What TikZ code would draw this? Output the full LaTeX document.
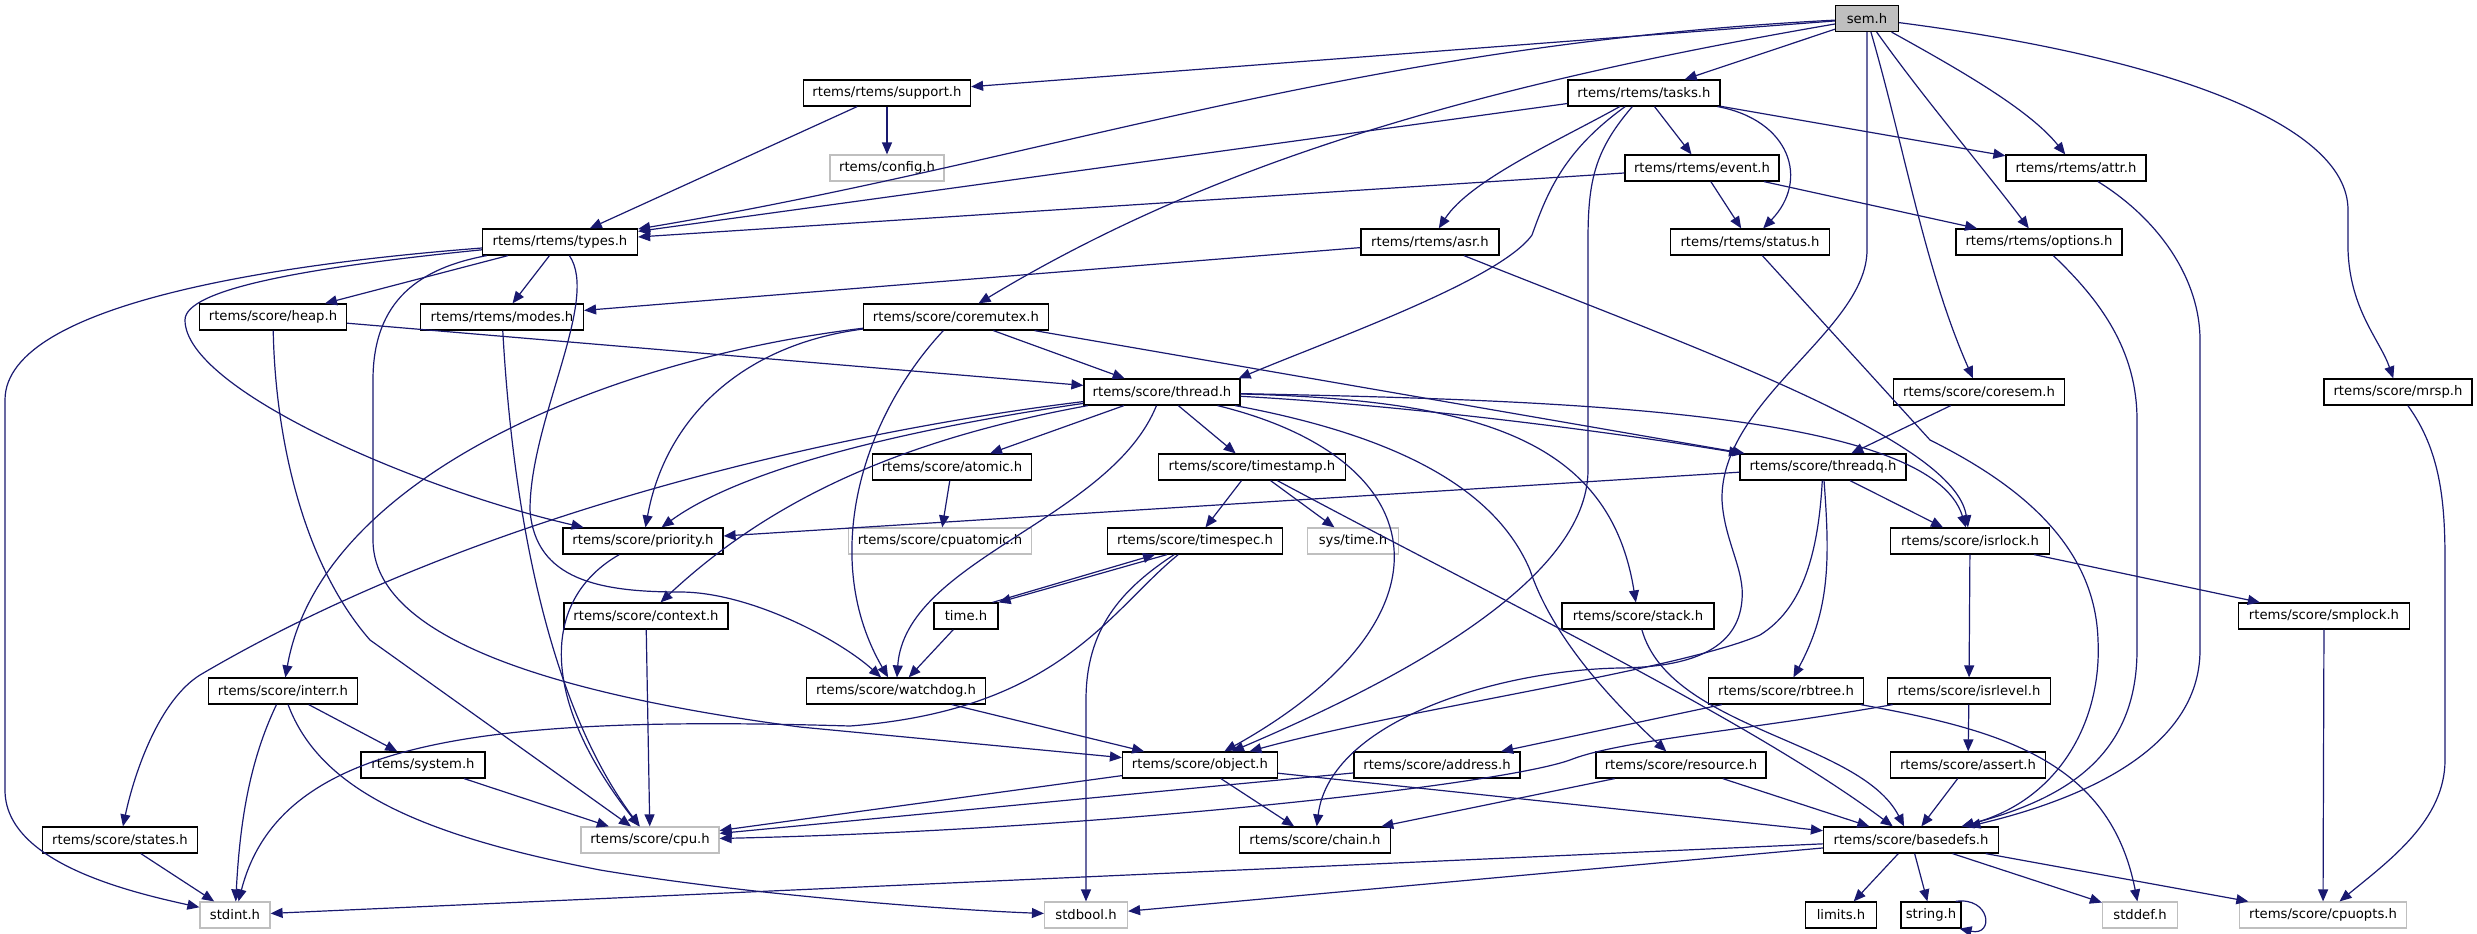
\documentclass[tikz,border=0pt]{standalone}
\usepackage{fontspec}
\setmainfont{DejaVu Sans}
\usetikzlibrary{arrows.meta}
\definecolor{dxblue}{RGB}{25,25,112}
\definecolor{dxgrey}{RGB}{191,191,191}

\begin{document}
\begin{tikzpicture}[x=1pt, y=-1pt,
  hdr/.style={draw=black, fill=dxgrey, line width=1.2pt, minimum height=26pt, inner sep=0pt, font=\fontsize{13.2}{15}\selectfont},
  inc/.style={hdr, fill=white},
  sys/.style={inc, draw=dxgrey},
  dep/.style={draw=dxblue, line width=1.2pt, -{Triangle[length=12pt,width=10pt]}}]
\useasboundingbox (0,0) rectangle (2477,934);

% files
\node[hdr, minimum width=63pt] (sem) at (1867,18.5) {sem.h};
\node[inc, minimum width=167pt] (support) at (887,93) {rtems/rtems/support.h};
\node[inc, minimum width=152pt] (tasks) at (1644,93) {rtems/rtems/tasks.h};
\node[sys, minimum width=114pt] (config) at (887,168) {rtems/config.h};
\node[inc, minimum width=154pt] (event) at (1702,168) {rtems/rtems/event.h};
\node[inc, minimum width=140pt] (attr) at (2076,168) {rtems/rtems/attr.h};
\node[inc, minimum width=155pt] (types) at (560,242) {rtems/rtems/types.h};
\node[inc, minimum width=138pt] (asr) at (1430,242) {rtems/rtems/asr.h};
\node[inc, minimum width=159pt] (status) at (1750,242) {rtems/rtems/status.h};
\node[inc, minimum width=166pt] (options) at (2039,242) {rtems/rtems/options.h};
\node[inc, minimum width=147pt] (heap) at (273,317) {rtems/score/heap.h};
\node[inc, minimum width=163pt] (modes) at (502,317) {rtems/rtems/modes.h};
\node[inc, minimum width=185pt] (coremutex) at (956,317) {rtems/score/coremutex.h};
\node[inc, minimum width=156pt] (thread) at (1162,392) {rtems/score/thread.h};
\node[inc, minimum width=171pt] (coresem) at (1979,392) {rtems/score/coresem.h};
\node[inc, minimum width=148pt] (mrsp) at (2398,392) {rtems/score/mrsp.h};
\node[inc, minimum width=159pt] (atomic) at (952,467) {rtems/score/atomic.h};
\node[inc, minimum width=187pt] (timestamp) at (1252,467) {rtems/score/timestamp.h};
\node[inc, minimum width=166pt] (threadq) at (1823,467) {rtems/score/threadq.h};
\node[inc, minimum width=160pt] (priority) at (643,541) {rtems/score/priority.h};
\node[sys, minimum width=183pt] (cpuatomic) at (940,541) {rtems/score/cpuatomic.h};
\node[inc, minimum width=175pt] (timespec) at (1195,541) {rtems/score/timespec.h};
\node[sys, minimum width=91pt] (systime) at (1353,541) {sys/time.h};
\node[inc, minimum width=159pt] (isrlock) at (1970,541) {rtems/score/isrlock.h};
\node[inc, minimum width=164pt] (context) at (646,616) {rtems/score/context.h};
\node[inc, minimum width=64pt] (time) at (966,616) {time.h};
\node[inc, minimum width=152pt] (stack) at (1638,616) {rtems/score/stack.h};
\node[inc, minimum width=171pt] (smplock) at (2324,616) {rtems/score/smplock.h};
\node[inc, minimum width=149pt] (interr) at (283,691) {rtems/score/interr.h};
\node[inc, minimum width=179pt] (watchdog) at (896,691) {rtems/score/watchdog.h};
\node[inc, minimum width=155pt] (rbtree) at (1786,691) {rtems/score/rbtree.h};
\node[inc, minimum width=163pt] (isrlevel) at (1969,691) {rtems/score/isrlevel.h};
\node[inc, minimum width=124pt] (system) at (423,765) {rtems/system.h};
\node[inc, minimum width=155pt] (object) at (1200,765) {rtems/score/object.h};
\node[inc, minimum width=166pt] (address) at (1437,765) {rtems/score/address.h};
\node[inc, minimum width=170pt] (resource) at (1681,765) {rtems/score/resource.h};
\node[inc, minimum width=155pt] (assert) at (1968,765) {rtems/score/assert.h};
\node[inc, minimum width=155pt] (states) at (120,840) {rtems/score/states.h};
\node[sys, minimum width=138pt] (cpu) at (650,840) {rtems/score/cpu.h};
\node[inc, minimum width=151pt] (chain) at (1315,840) {rtems/score/chain.h};
\node[inc, minimum width=175pt] (basedefs) at (1911,840) {rtems/score/basedefs.h};
\node[sys, minimum width=70pt] (stdint) at (235,915) {stdint.h};
\node[sys, minimum width=83pt] (stdbool) at (1086,915) {stdbool.h};
\node[inc, minimum width=71pt] (limits) at (1841,915) {limits.h};
\node[inc, minimum width=60pt] (string) at (1931,915) {string.h};
\node[sys, minimum width=75pt] (stddef) at (2140,915) {stddef.h};
\node[sys, minimum width=167pt] (cpuopts) at (2323,915) {rtems/score/cpuopts.h};

% sem.h
\draw[dep] (sem) -- (support);
\draw[dep] (sem) .. controls (1350,45) and (1050,160) .. (types);
\draw[dep] (sem) -- (tasks);
\draw[dep] (sem) .. controls (1450,90) and (1200,170) .. (coremutex);
\draw[dep] (sem.south) -- (1867,250) .. controls (1867,330) and (1720,400) .. (1722,500) .. controls (1724,540) and (1745,570) .. (1742,600) .. controls (1738,650) and (1690,667) .. (1620,668) .. controls (1500,670) and (1330,720) .. (chain);
\draw[dep] (sem) .. controls (1905,150) and (1925,270) .. (coresem);
\draw[dep] (sem) .. controls (1925,100) and (1985,170) .. (options);
\draw[dep] (sem) .. controls (1960,70) and (2030,110) .. (attr);
\draw[dep] (sem) .. controls (2150,55) and (2348,120) .. (2348,210) -- (2348,250) .. controls (2350,310) and (2380,340) .. (mrsp);

% tasks.h
\draw[dep] (tasks) -- (types);
\draw[dep] (tasks) .. controls (1560,140) and (1470,180) .. (asr);
\draw[dep] (tasks) .. controls (1565,150) and (1548,190) .. (1532,235) .. controls (1500,280) and (1330,340) .. ([xshift=-2pt]thread.north east);
\draw[dep] (tasks) .. controls (1595,150) and (1588,180) .. (1588,240) -- (1588,470) .. controls (1588,580) and (1400,680) .. (object);
\draw[dep] (tasks) -- (event);
\draw[dep] (tasks) .. controls (1790,120) and (1810,180) .. (status);
\draw[dep] (tasks) -- (attr);

\draw[dep] (event) -- (types);
\draw[dep] (event) -- (status);
\draw[dep] (event) -- (options);
\draw[dep] (support) -- (types);
\draw[dep] (support) -- (config);

\draw[dep] (attr) .. controls (2160,220) and (2200,280) .. (2200,340) -- (2200,650) .. controls (2200,750) and (2080,800) .. (basedefs);
\draw[dep] (options) .. controls (2100,300) and (2137,350) .. (2137,420) -- (2137,650) .. controls (2137,760) and (2060,800) .. (basedefs);
\draw[dep] (status) -- (1930,440) .. controls (2010,480) and (2095,540) .. (2098,640) .. controls (2102,720) and (2060,800) .. (basedefs);

\draw[dep] (asr) -- (modes);
\draw[dep] (asr) .. controls (1700,350) and (1955,440) .. (isrlock);

% types.h
\draw[dep] (types) -- (heap);
\draw[dep] (types) -- (modes);
\draw[dep] (types) .. controls (300,262) and (5,300) .. (5,400) -- (5,790) .. controls (5,860) and (120,890) .. (stdint);
\draw[dep] (types) .. controls (300,268) and (185,290) .. (185,320) .. controls (185,390) and (420,490) .. (priority);
\draw[dep] (types) .. controls (420,268) and (373,300) .. (373,380) -- (373,540) .. controls (373,640) and (560,695) .. (800,727) -- (object);
\draw[dep] (types) .. controls (600,300) and (530,420) .. (530,510) .. controls (535,580) and (600,592) .. (680,592) .. controls (750,592) and (840,640) .. (watchdog);

\draw[dep] (heap) .. controls (275,430) and (300,560) .. (370,640) -- (cpu);
\draw[dep] (heap) -- (thread);
\draw[dep] (modes) .. controls (515,550) and (560,720) .. (cpu);

% coremutex.h
\draw[dep] (coremutex) -- (thread);
\draw[dep] (coremutex) .. controls (740,345) and (665,420) .. (priority);
\draw[dep] (coremutex) .. controls (600,360) and (320,480) .. (interr);
\draw[dep] (coremutex) .. controls (860,420) and (820,560) .. (watchdog);
\draw[dep] (coremutex) -- (threadq);

% thread.h
\draw[dep] (thread) .. controls (900,430) and (740,470) .. (priority);
\draw[dep] (thread) .. controls (850,430) and (480,510) .. (200,675) .. controls (160,700) and (135,770) .. (states);
\draw[dep] (thread) .. controls (900,440) and (770,500) .. (context);
\draw[dep] (thread) -- (atomic);
\draw[dep] (thread) -- (timestamp);
\draw[dep] (thread) .. controls (1110,520) and (905,560) .. (watchdog);
\draw[dep] (thread) .. controls (1440,460) and (1460,620) .. (object);
\draw[dep] (thread) .. controls (1420,440) and (1500,500) .. (1530,570) .. controls (1550,630) and (1600,690) .. (resource);
\draw[dep] (thread) .. controls (1480,400) and (1610,440) .. (stack);
\draw[dep] (thread) .. controls (1400,405) and (1600,430) .. (threadq);
\draw[dep] (thread) .. controls (1550,400) and (1930,410) .. (isrlock);

% threadq.h
\draw[dep] (threadq) -- (priority);
\draw[dep] (threadq) -- (isrlock);
\draw[dep] (threadq) .. controls (1830,560) and (1830,610) .. (rbtree);
\draw[dep] (threadq) .. controls (1818,560) and (1800,610) .. (1760,635) .. controls (1680,670) and (1400,710) .. (object);

\draw[dep] (timestamp) -- (timespec);
\draw[dep] (timestamp) -- (systime);
\draw[dep] (timestamp) .. controls (1500,600) and (1750,720) .. (basedefs);
\draw[dep] (atomic) -- (cpuatomic);

% timespec.h and time.h
\draw[dep] ([xshift=-6pt]time.north east) -- ([xshift=-40pt]timespec.south);
\draw[dep] ([xshift=-28pt]timespec.south) -- (time.north east);
\draw[dep] (timespec) .. controls (1120,590) and (1086,630) .. (1086,700) -- (stdbool);
\draw[dep] (timespec) .. controls (1110,610) and (1060,710) .. (850,726) .. controls (480,715) and (280,740) .. (stdint);
\draw[dep] (time) -- (watchdog);
\draw[dep] (watchdog) -- (object);

% object.h and below
\draw[dep] (object) -- (cpu);
\draw[dep] (object) -- (chain);
\draw[dep] (object) -- (basedefs);
\draw[dep] (address) -- (cpu);
\draw[dep] (rbtree) -- (address);
\draw[dep] (rbtree) .. controls (2000,730) and (2110,760) .. (stddef);
\draw[dep] (isrlevel) .. controls (1750,730) and (1620,740) .. (1570,760) .. controls (1500,785) and (1100,830) .. (cpu);
\draw[dep] (isrlevel) -- (assert);
\draw[dep] (isrlock) -- (isrlevel);
\draw[dep] (isrlock) -- (smplock);
\draw[dep] (smplock) -- (cpuopts);
\draw[dep] (coresem) -- (threadq);
\draw[dep] (mrsp) .. controls (2440,450) and (2445,500) .. (2445,560) -- (2445,760) .. controls (2445,820) and (2390,860) .. (cpuopts);
\draw[dep] (assert) -- (basedefs);
\draw[dep] (resource) -- (chain);
\draw[dep] (resource) -- (basedefs);
\draw[dep] (stack) .. controls (1670,730) and (1860,740) .. (basedefs);

% basedefs.h
\draw[dep] (basedefs) -- (limits);
\draw[dep] (basedefs) -- (string);
\draw[dep] (basedefs) -- (stddef);
\draw[dep] (basedefs) -- (cpuopts);
\draw[dep] (basedefs) -- (stdint);
\draw[dep] (basedefs) -- (stdbool);
\draw[dep] ([xshift=-6pt]string.north east) .. controls +(35,-5) and +(35,8) .. ([xshift=-2pt]string.south east);

% interr.h and the rest
\draw[dep] (interr) .. controls (250,760) and (240,820) .. (stdint);
\draw[dep] (interr) -- (system);
\draw[dep] (interr) .. controls (320,790) and (420,835) .. (600,870) .. controls (750,895) and (950,910) .. (stdbool);
\draw[dep] (system) -- (cpu);
\draw[dep] (states) -- (stdint);
\draw[dep] (priority) .. controls (540,600) and (540,700) .. (cpu);
\draw[dep] (context) -- (cpu);
\end{tikzpicture}
\end{document}
